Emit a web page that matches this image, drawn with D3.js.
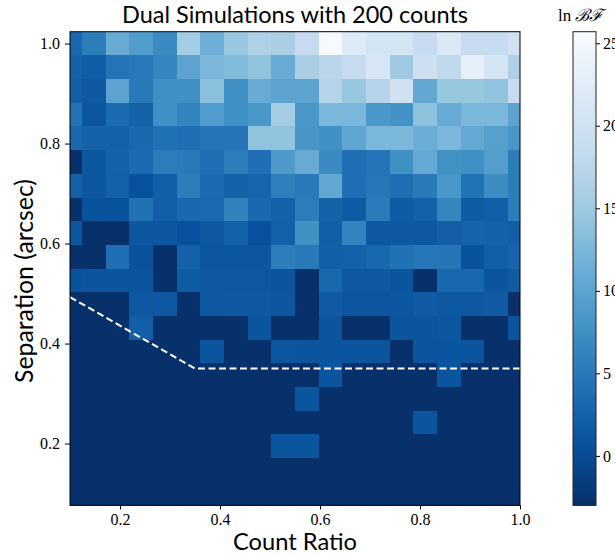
<!DOCTYPE html>
<html>
<head>
<meta charset="utf-8">
<script src="https://cdn.jsdelivr.net/npm/d3@7"></script>
<style>
	body { margin: 0; background: #fff; }
	svg { display: block; }
	.tick text { font-family: "Liberation Serif", "DejaVu Serif", serif; fill: #000; }
	.tick line { stroke: #000; }
	.sans { font-family: "Lato", "DejaVu Sans", sans-serif; fill: #000; }
	rect.cell { shape-rendering: crispEdges; }
</style>
</head>
<body>
<div id="chart"></div>
<script>
// cell centres: count ratio (columns) and separation (rows, top to bottom)
var countRatio = [ 0.1, 0.1474, 0.1947, 0.2421, 0.2895, 0.3368, 0.3842, 0.4316, 0.4789, 0.5263,
	0.5737, 0.6211, 0.6684, 0.7158, 0.7632, 0.8105, 0.8579, 0.9053, 0.9526, 1.0 ];
var separation = [ 1.0, 0.9526, 0.9053, 0.8579, 0.8105, 0.7632, 0.7158, 0.6684, 0.6211, 0.5737,
	0.5263, 0.4789, 0.4316, 0.3842, 0.3368, 0.2895, 0.2421, 0.1947, 0.1474, 0.1 ];

// ln Bayes factor, one row per separation value
var lnBF = [
	[ 3, 5.5, 11, 9, 7, 15.5, 11.5, 14.5, 16.5, 16, 18.5, 25.5, 22, 20.5, 20.5, 18.5, 21.5, 18.5, 18.5, 20 ],
	[ 2.5, 2, 4.5, 5, 6.5, 10, 12.5, 13, 14, 11, 16, 17.5, 18.5, 21, 15, 19.5, 18, 23, 20.5, 16.5 ],
	[ 2.2, 1.5, 10, 5, 7.5, 7.5, 13.5, 7.5, 11, 10, 10, 17, 14.5, 17, 20, 10.5, 14.5, 14.5, 14, 18.5 ],
	[ 4.3, 1.2, 3.5, 2.5, 7.5, 6.2, 9, 7.5, 8.5, 15.5, 8.5, 12.5, 12.5, 8.5, 7.8, 13.8, 11, 12.5, 12.5, 10 ],
	[ 3, 2.5, 2.4, 3.2, 4.2, 4, 4.5, 4.5, 14, 14, 8.3, 7.7, 10.3, 12.5, 12.5, 11.3, 12.5, 10.7, 9.5, 8.3 ],
	[ -3, 1.3, 2.5, 3.5, 5.5, 5.2, 4, 5.5, 4, 8.7, 11, 7, 4, 4.5, 7.6, 10.7, 7.8, 7.5, 9.3, 5.5 ],
	[ 2.4, 1.3, 2.4, 0.6, 2.2, 5.5, 3.5, 2.5, 2.8, 5.7, 5, 10.5, 4, 4.8, 4, 5.2, 8.5, 4.3, 7.2, 5.5 ],
	[ -3, 0.8, 0.8, 4.2, 2.2, 3.2, 3.3, 6, 3.2, 2.5, 5.5, 2.5, 1.8, 5.3, 1.8, 2.4, 6.3, 1.8, 2.2, 5.5 ],
	[ 1.2, -3, -3, 1.3, 1.3, 0.6, 1.4, 2.4, 0.6, 2.4, 7.6, 2.2, 6.1, 1.4, 1.5, 1.4, 2.1, 2.7, 2.5, 2.2 ],
	[ -3, -3, 4, 0.8, -3, 2.4, 1.3, 1.3, 1.3, 5.5, 5, 2.3, 2.4, 3, 4.2, 4.8, 4.7, 0.8, 2.2, 2.7 ],
	[ 0.7, 1, 1, 1, -3, 1.8, 1.4, 1.4, 1.4, 1, -3, 3, 1.5, 1.5, 1, -3, 3, 3, 1, 1.7 ],
	[ -3, -3, -3, 1.4, 1.4, -3, 1.4, 1.5, 1.5, 1.3, -3, 1.7, 1.2, 1.2, 1.2, 1.7, 1.4, 1.4, 1.7, -3 ],
	[ -3, -3, -3, 2.2, -3, -3, -3, -3, 1, -3, -3, 1, -3, -3, 1, 1, 1.3, -3, -3, 1 ],
	[ -3, -3, -3, -3, -3, -3, 1, -3, -3, 1.2, 1, 1, 1, 1, -3, 1, 1, 1, -3, -3 ],
	[ -3, -3, -3, -3, -3, -3, -3, -3, -3, -3, -3, 1, -3, -3, -3, -3, 1, -3, -3, -3 ],
	[ -3, -3, -3, -3, -3, -3, -3, -3, -3, -3, 1, -3, -3, -3, -3, -3, -3, -3, -3, -3 ],
	[ -3, -3, -3, -3, -3, -3, -3, -3, -3, -3, -3, -3, -3, -3, -3, 1, -3, -3, -3, -3 ],
	[ -3, -3, -3, -3, -3, -3, -3, -3, -3, 1, 1, -3, -3, -3, -3, -3, -3, -3, -3, -3 ],
	[ -3, -3, -3, -3, -3, -3, -3, -3, -3, -3, -3, -3, -3, -3, -3, -3, -3, -3, -3, -3 ],
	[ -3, -3, -3, -3, -3, -3, -3, -3, -3, -3, -3, -3, -3, -3, -3, -3, -3, -3, -3, -3 ]
];

// dashed detection limit
var cutoffRatio = [ 0.1, 0.35, 1.0 ];
var cutoffSep = [ 0.493, 0.35, 0.35 ];

var xTicks = [ 0.2, 0.4, 0.6, 0.8, 1.0 ];
var yTicks = [ 0.2, 0.4, 0.6, 0.8, 1.0 ];
var cbTicks = [ 0, 5, 10, 15, 20, 25 ];
var cbMin = -3.0,
	cbMax = 25.7;

// matplotlib Blues, reversed below
var blues = [ "#f7fbff", "#deebf7", "#c6dbef", "#9ecae1", "#6baed6", "#4292c6", "#2171b5", "#08519c", "#08306b" ];

var W = 615,
	H = 558,
	plot = { left: 70, right: 520, top: 31.7, bottom: 505.4 },
	cbar = { left: 573, right: 596 };

var step = countRatio[ 1 ] - countRatio[ 0 ];

var svg = d3.select( "#chart" ).append( "svg" )
	.attr( "width", W )
	.attr( "height", H );

var x = d3.scaleLinear()
	.domain( [ countRatio[ 0 ], countRatio[ countRatio.length - 1 ] ] )
	.range( [ plot.left, plot.right ] );

var y = d3.scaleLinear()
	.domain( [ separation[ separation.length - 1 ] - step / 2, separation[ 0 ] + step / 2 ] )
	.range( [ plot.bottom, plot.top ] );

// colour scale: linear segments between the Blues stops
var color = d3.scaleLinear()
	.domain( blues.map( function ( c, i ) { return cbMin + i * ( cbMax - cbMin ) / ( blues.length - 1 ); } ) )
	.range( blues.slice().reverse() )
	.clamp( true );

var defs = svg.append( "defs" );
defs.append( "clipPath" ).attr( "id", "plot-clip" )
	.append( "rect" )
	.attr( "x", plot.left )
	.attr( "y", plot.top )
	.attr( "width", plot.right - plot.left )
	.attr( "height", plot.bottom - plot.top );

// flatten grid into cells
var cells = [];
lnBF.forEach( function ( row, i ) {
	row.forEach( function ( v, j ) {
		cells.push( { r: countRatio[ j ], s: separation[ i ], v: v } );
	} );
} );

var g = svg.append( "g" ).attr( "clip-path", "url(#plot-clip)" );

g.selectAll( "rect.cell" )
	.data( cells )
	.enter().append( "rect" )
	.attr( "class", "cell" )
	.attr( "x", function ( d ) { return x( d.r - step / 2 ); } )
	.attr( "y", function ( d ) { return y( d.s + step / 2 ); } )
	.attr( "width", function ( d ) { return x( d.r + step / 2 ) - x( d.r - step / 2 ) + 1; } )
	.attr( "height", function ( d ) { return y( d.s - step / 2 ) - y( d.s + step / 2 ) + 1; } )
	.attr( "fill", function ( d ) { return color( d.v ); } );

var cutoff = cutoffRatio.map( function ( r, i ) { return [ r, cutoffSep[ i ] ]; } );
g.append( "path" )
	.datum( cutoff )
	.attr( "fill", "none" )
	.attr( "stroke", "#fff" )
	.attr( "stroke-width", 2 )
	.attr( "stroke-dasharray", "7,3.5" )
	.attr( "d", d3.line()
		.x( function ( d ) { return x( d[ 0 ] ); } )
		.y( function ( d ) { return y( d[ 1 ] ); } ) );

// frame
svg.append( "rect" )
	.attr( "x", plot.left )
	.attr( "y", plot.top )
	.attr( "width", plot.right - plot.left )
	.attr( "height", plot.bottom - plot.top )
	.attr( "fill", "none" )
	.attr( "stroke", "#000" )
	.attr( "stroke-width", 1 );

// axes
var xAxis = svg.append( "g" )
	.attr( "transform", "translate(0," + plot.bottom + ")" )
	.call( d3.axisBottom( x ).tickValues( xTicks ).tickFormat( d3.format( ".1f" ) ).tickSize( 4 ).tickPadding( 4 ) );
xAxis.select( ".domain" ).remove();
xAxis.selectAll( "text" ).attr( "font-size", 16 );

var yAxis = svg.append( "g" )
	.attr( "transform", "translate(" + plot.left + ",0)" )
	.call( d3.axisLeft( y ).tickValues( yTicks ).tickFormat( d3.format( ".1f" ) ).tickSize( 5 ).tickPadding( 5 ) );
yAxis.select( ".domain" ).remove();
yAxis.selectAll( "text" ).attr( "font-size", 16 );

// colorbar
var cy = d3.scaleLinear().domain( [ cbMin, cbMax ] ).range( [ plot.bottom, plot.top ] );
var grad = defs.append( "linearGradient" ).attr( "id", "cb-grad" )
	.attr( "x1", 0 ).attr( "y1", 1 ).attr( "x2", 0 ).attr( "y2", 0 );
blues.slice().reverse().forEach( function ( c, i ) {
	grad.append( "stop" ).attr( "offset", i / ( blues.length - 1 ) ).attr( "stop-color", c );
} );
svg.append( "rect" )
	.attr( "x", cbar.left )
	.attr( "y", plot.top )
	.attr( "width", cbar.right - cbar.left )
	.attr( "height", plot.bottom - plot.top )
	.attr( "fill", "url(#cb-grad)" )
	.attr( "stroke", "#222" )
	.attr( "stroke-width", 1 );

var cAxis = svg.append( "g" )
	.attr( "transform", "translate(" + cbar.right + ",0)" )
	.call( d3.axisRight( cy ).tickValues( cbTicks ).tickSize( 4 ).tickPadding( 3 ) );
cAxis.select( ".domain" ).remove();
cAxis.selectAll( "text" ).attr( "font-size", 16 );

// size a text element to a target width
function fitWidth( sel, w ) {
	var fs = parseFloat( sel.attr( "font-size" ) ),
		cur = sel.node().getComputedTextLength();
	if ( cur > 0 ) sel.attr( "font-size", fs * w / cur );
}

var title = svg.append( "text" )
	.attr( "class", "sans" )
	.attr( "x", 295 )
	.attr( "y", 23 )
	.attr( "text-anchor", "middle" )
	.attr( "font-size", 20 )
	.text( "Dual Simulations with 200 counts" );
fitWidth( title, 346 );

var xLabel = svg.append( "text" )
	.attr( "class", "sans" )
	.attr( "x", 295 )
	.attr( "y", 550 )
	.attr( "text-anchor", "middle" )
	.attr( "font-size", 22 )
	.text( "Count Ratio" );
fitWidth( xLabel, 124 );

var yLabel = svg.append( "text" )
	.attr( "class", "sans" )
	.attr( "transform", "translate(33,281) rotate(-90)" )
	.attr( "text-anchor", "middle" )
	.attr( "font-size", 22 )
	.text( "Separation (arcsec)" );
fitWidth( yLabel, 204 );

var cbLabel = svg.append( "text" )
	.attr( "x", 558 )
	.attr( "y", 21 )
	.attr( "font-size", 17 )
	.attr( "font-family", "'Liberation Serif', 'DejaVu Serif', serif" );
cbLabel.append( "tspan" ).text( "ln\u2009" );
cbLabel.append( "tspan" ).attr( "font-style", "italic" ).text( "\u212C\u2131" );
</script>
</body>
</html>
